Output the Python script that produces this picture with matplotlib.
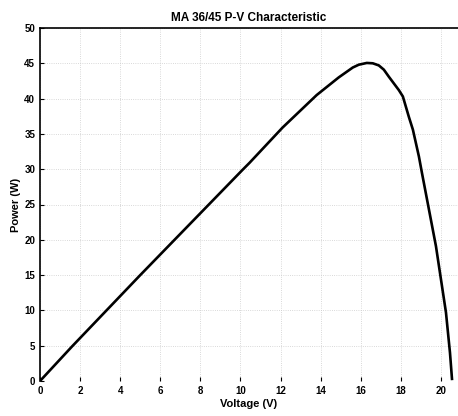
import matplotlib
matplotlib.use("Agg")
import matplotlib.pyplot as plt

plt.rcParams['font.family'] = ['Liberation Sans', 'DejaVu Sans']

voltage = [0.0, 1.6, 5.0, 10.1, 10.45, 12.1, 13.8, 14.9, 15.3, 15.6, 15.9, 16.3, 16.6, 16.9,
           17.15, 17.4, 17.9, 18.1, 18.4, 18.6, 18.9, 19.05, 19.75, 20.25, 20.45, 20.55]
power = [0.0, 4.9, 15.0, 29.9, 30.9, 35.9, 40.5, 43.0, 43.8, 44.4, 44.8, 45.05, 45.0, 44.7,
         44.1, 43.1, 41.2, 40.3, 37.4, 35.6, 31.8, 29.5, 19.1, 9.7, 4.0, 0.3]
xticks = [0, 2, 4, 6, 8, 10, 12, 14, 16, 18, 20]
yticks = [0, 5, 10, 15, 20, 25, 30, 35, 40, 45, 50]

fig = plt.figure(figsize=(4.58, 4.16), dpi=100)
ax = fig.add_axes([40/458, 35/416, 1 - 40/458, 353/416])
ax.plot(voltage, power, color='black', linewidth=1.9, solid_joinstyle='round')
ax.set_xlim(0, 20.85)
ax.set_ylim(0, 50)
ax.set_xticks(xticks)
ax.set_yticks(yticks)
ax.tick_params(direction='in', length=3, labelsize=7, width=0.8)
for lab in ax.get_xticklabels() + ax.get_yticklabels():
    lab.set_fontweight('bold')
ax.grid(True, linestyle=':', color='#cccccc', linewidth=0.6)
ax.spines['right'].set_visible(False)
ax.spines['bottom'].set_visible(False)
ax.spines['top'].set_linewidth(1.2)
ax.spines['left'].set_linewidth(1.2)
ax.set_title('MA 36/45 P-V Characteristic', fontsize=8.5, fontweight='bold', pad=5)
ax.set_xlabel('Voltage (V)', fontsize=8, fontweight='bold', labelpad=2)
ax.set_ylabel('Power (W)', fontsize=8, fontweight='bold', labelpad=2)
fig.savefig('out.png', dpi=100)
